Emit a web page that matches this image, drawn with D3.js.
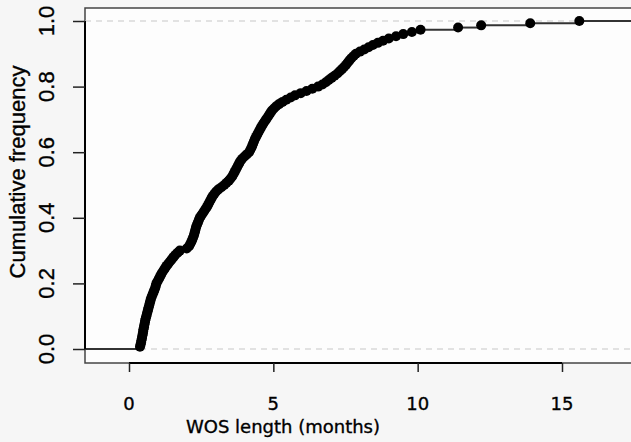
<!DOCTYPE html>
<html>
<head>
<meta charset="utf-8">
<script src="https://cdn.jsdelivr.net/npm/d3@7"></script>
<style>
  body { margin: 0; background: #f6f6f6; }
  svg { display: block; }
  .xtick { font-family: 'DejaVu Sans', sans-serif; font-size: 18px; fill: #000; stroke: #000; stroke-width: 0.35; }
  .ytick { font-family: 'Liberation Sans', Arial, sans-serif; font-size: 22px; fill: #000; stroke: #000; stroke-width: 0.35; }
</style>
</head>
<body>
<svg id="chart" width="631" height="442"></svg>
<script>
// WOS length in months, one value per case (sorted)
const wosLength = [
  0.38, 0.40, 0.42, 0.43, 0.45, 0.46, 0.48, 0.49, 0.50, 0.52, 0.53, 0.55, 0.56, 0.58, 0.60,
  0.62, 0.64, 0.66, 0.68, 0.70, 0.72, 0.74, 0.76, 0.79, 0.82, 0.85, 0.88, 0.91, 0.93, 0.95,
  0.99, 1.03, 1.07, 1.11, 1.15, 1.20, 1.25, 1.30, 1.36, 1.42, 1.48, 1.54, 1.60, 1.68, 1.76,
  2.00, 2.08, 2.12, 2.16, 2.19, 2.22, 2.25, 2.27, 2.29, 2.31, 2.33, 2.36, 2.39, 2.42, 2.45,
  2.50, 2.55, 2.60, 2.65, 2.70, 2.74, 2.78, 2.82, 2.86, 2.90, 2.96, 3.02, 3.10, 3.20, 3.30,
  3.38, 3.46, 3.52, 3.58, 3.62, 3.66, 3.70, 3.74, 3.78, 3.82, 3.86, 3.92, 4.00, 4.08, 4.16,
  4.20, 4.24, 4.27, 4.30, 4.33, 4.36, 4.40, 4.44, 4.48, 4.52, 4.56, 4.60, 4.65, 4.70, 4.75,
  4.80, 4.85, 4.90, 4.95, 5.02, 5.10, 5.20, 5.32, 5.45, 5.60, 5.75, 5.95, 6.15, 6.35, 6.55,
  6.70, 6.82, 6.92, 7.02, 7.12, 7.22, 7.30, 7.38, 7.45, 7.52, 7.58, 7.64, 7.70, 7.78, 7.86,
  8.00, 8.15, 8.30, 8.45, 8.62, 8.80, 9.00, 9.25, 9.50, 9.80, 10.1, 11.4, 12.2, 13.9, 15.6
]
const xTicks = [0, 5, 10, 15]
const yTicks = [0, 0.2, 0.4, 0.6, 0.8, 1.0]

const box = { left: 85, top: 8, right: 640, bottom: 363 }

const xs = d3.scaleLinear().domain([0, 15]).range([129, 562])
const ys = d3.scaleLinear().domain([0, 1]).range([349, 21])

const svg = d3.select('#chart')

// plot region
svg.append('rect')
  .attr('x', box.left).attr('y', box.top)
  .attr('width', box.right - box.left).attr('height', box.bottom - box.top)
  .attr('fill', '#fdfdfd')
  .attr('stroke', '#444').attr('stroke-width', 1.5)

// dashed reference lines at 0 and 1
svg.append('g')
  .selectAll('line')
  .data([0, 1])
  .join('line')
  .attr('x1', box.left).attr('x2', box.right)
  .attr('y1', (d) => ys(d)).attr('y2', (d) => ys(d))
  .attr('stroke', '#c8c8c8').attr('stroke-width', 1.2)
  .attr('stroke-dasharray', '6,5')

// ecdf steps
const n = wosLength.length
const steps = wosLength.map((v, i) => ({
  x0: v,
  x1: i < n - 1 ? wosLength[i + 1] : null,
  y: (i + 1) / n,
}))

const stepG = svg.append('g').attr('stroke', '#333').attr('stroke-width', 2)
stepG.append('line')
  .attr('x1', box.left).attr('x2', xs(wosLength[0]))
  .attr('y1', ys(0)).attr('y2', ys(0))
stepG.selectAll('line.step')
  .data(steps)
  .join('line')
  .classed('step', true)
  .attr('x1', (d) => xs(d.x0))
  .attr('x2', (d) => (d.x1 === null ? box.right : xs(d.x1)))
  .attr('y1', (d) => ys(d.y))
  .attr('y2', (d) => ys(d.y))

svg.append('g')
  .selectAll('circle')
  .data(steps)
  .join('circle')
  .attr('cx', (d) => xs(d.x0))
  .attr('cy', (d) => ys(d.y))
  .attr('r', 5)
  .attr('fill', '#000')

// x axis
const xAxis = svg.append('g').attr('transform', `translate(0, ${box.bottom})`)
xAxis.call(d3.axisBottom(xs).tickValues(xTicks).tickSize(9).tickFormat(''))
xAxis.select('.domain').attr('stroke', '#000').attr('stroke-width', 2).attr('d', `M${xs(0)},0H${xs(15)}`)
xAxis.selectAll('.tick line').attr('stroke', '#222').attr('stroke-width', 1.5)

svg.append('g')
  .selectAll('text')
  .data(xTicks)
  .join('text')
  .classed('xtick', true)
  .attr('x', (d) => xs(d))
  .attr('y', 410)
  .attr('text-anchor', 'middle')
  .text((d) => d)

svg.append('text')
  .classed('xtick', true)
  .attr('x', 283)
  .attr('y', 433)
  .attr('text-anchor', 'middle')
  .text('WOS length (months)')

// y axis
const yAxis = svg.append('g').attr('transform', `translate(${box.left}, 0)`)
yAxis.call(d3.axisLeft(ys).tickValues(yTicks).tickSize(12).tickFormat(''))
yAxis.select('.domain').attr('stroke', '#000').attr('stroke-width', 2).attr('d', `M0,${ys(0)}V${ys(1)}`)
yAxis.selectAll('.tick line').attr('stroke', '#222').attr('stroke-width', 1.5)

svg.append('g')
  .selectAll('text')
  .data(yTicks)
  .join('text')
  .classed('ytick', true)
  .attr('transform', (d) => `translate(54, ${ys(d)}) rotate(-90)`)
  .attr('text-anchor', 'middle')
  .text((d) => d.toFixed(1))

svg.append('text')
  .classed('ytick', true)
  .attr('transform', 'translate(25, 172) rotate(-90)')
  .attr('text-anchor', 'middle')
  .attr('font-size', 21)
  .text('Cumulative frequency')
</script>
</body>
</html>
